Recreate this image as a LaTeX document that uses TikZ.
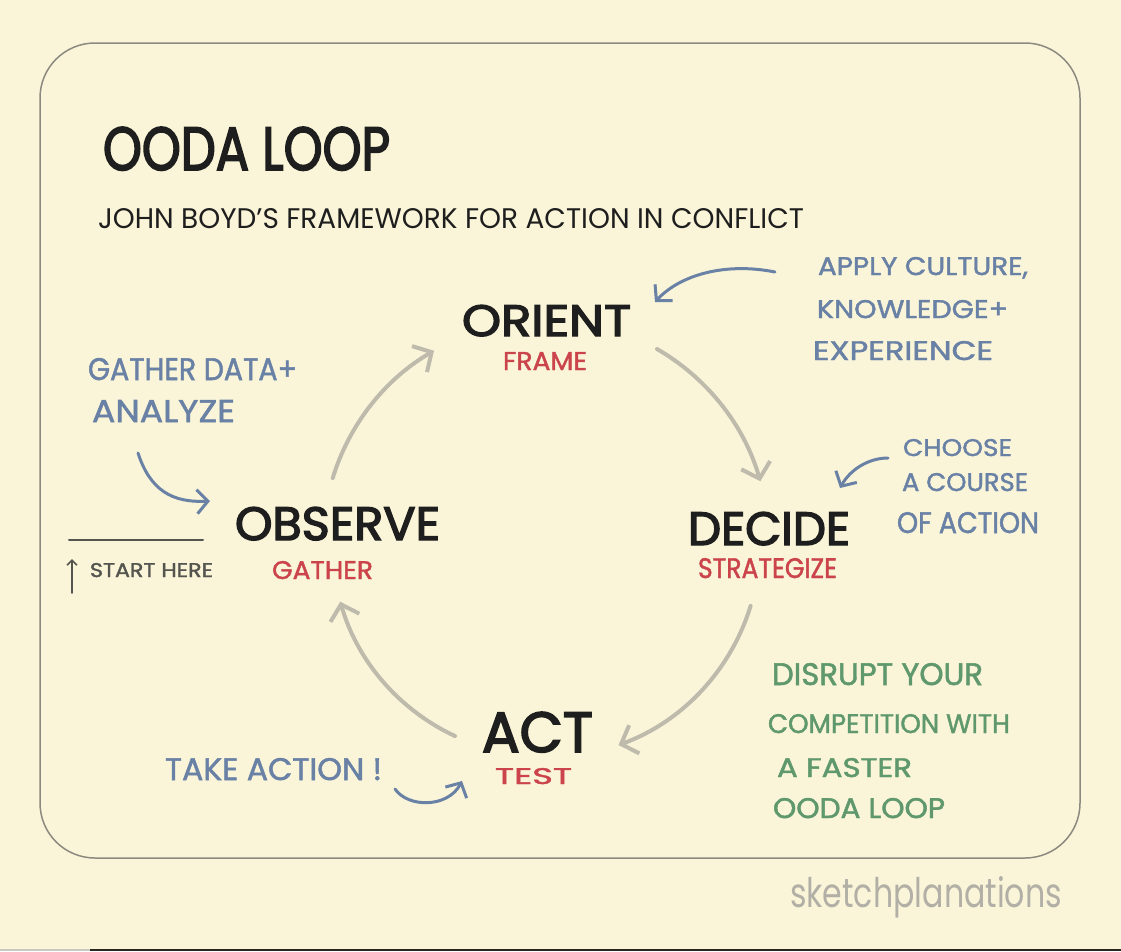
\documentclass[tikz,border=0pt]{standalone}
\usepackage{fontspec}
\setmainfont{Poppins}
\newfontfamily\inkfont{Poppins}[FakeBold=3]
\newfontfamily\notefont{Poppins}[FakeBold=1.6]
\usepackage{graphicx}
\usetikzlibrary{arrows.meta}
\definecolor{bg}{RGB}{250,245,216}
\definecolor{framec}{RGB}{140,138,128}
\definecolor{ink}{RGB}{30,30,30}
\definecolor{redc}{RGB}{203,68,76}
\definecolor{bluec}{RGB}{106,129,166}
\definecolor{greenc}{RGB}{95,152,108}
\definecolor{cyclec}{RGB}{190,186,172}
\definecolor{startc}{RGB}{85,85,80}
\definecolor{signc}{RGB}{178,176,166}
\definecolor{stripc}{RGB}{40,40,32}
\definecolor{stripl}{RGB}{200,200,195}
\newcommand\fitto[3]{\resizebox{#1pt}{#2pt}{#3}}
\begin{document}
\begin{tikzpicture}[x=1pt,y=-1pt,
  txt/.style={inner sep=0pt, outer sep=0pt, anchor=north west},
  main/.style={txt, text=ink, font=\inkfont},
  sub/.style={txt, text=redc, font=\notefont},
  note/.style={txt, text=bluec, font=\notefont},
  gnote/.style={txt, text=greenc, font=\notefont},
  cyc/.style={draw=cyclec, line width=4pt, line cap=round,
     -{Straight Barb[length=14pt,width=30pt,line width=4pt]}},
  bluearrow/.style={draw=bluec, line width=3pt, line cap=round,
     -{Straight Barb[length=11pt,width=24pt,line width=3pt]}}]
\useasboundingbox (0,0) rectangle (1121,951);
\fill[bg] (0,0) rectangle (1121,951);
\fill[stripl] (0,949) rectangle (90,951);
\fill[stripc] (90,949) rectangle (1121,951);
\draw[framec, line width=1.5pt, rounded corners=55pt] (40,43) rectangle (1080,858);

% titles
\node[main] (title) at (103,127) {\fitto{287}{43}{OODA LOOP}};
\node[txt, text=ink] (subtitle) at (98,208) {\fitto{706}{20}{JOHN BOYD’S FRAMEWORK FOR ACTION IN CONFLICT}};

% main stages
\node[main] (orient) at (462,305) {\fitto{169}{31}{ORIENT}};
\node[sub] (frame) at (503,352) {\fitto{84}{18}{FRAME}};
\node[main] (observe) at (235,507) {\fitto{205}{33}{OBSERVE}};
\node[sub] (gather) at (272,561) {\fitto{101}{18}{GATHER}};
\node[main] (decide) at (688,512) {\fitto{162}{33}{DECIDE}};
\node[sub] (strategize) at (698,558) {\fitto{139}{20}{STRATEGIZE}};
\node[main] (act) at (482,712) {\fitto{111}{40}{ACT}};
\node[sub] (test) at (495,768) {\fitto{77}{16}{TEST}};

% cycle arrows
\coordinate (c) at (545,543);
\draw[cyc] ([shift={(197:222)}]c) arc[start angle=197, end angle=240, radius=222];
\draw[cyc] ([shift={(300:224)}]c) arc[start angle=300, end angle=344, radius=224];
\draw[cyc] ([shift={(17:215)}]c) arc[start angle=17, end angle=70, radius=215];
\draw[cyc] ([shift={(115:213)}]c) arc[start angle=115, end angle=164, radius=213];

% blue notes
\node[note] (apply1) at (818,257) {\fitto{210}{18}{APPLY CULTURE,}};
\node[note] (apply2) at (817,300) {\fitto{191}{18}{KNOWLEDGE+}};
\node[note] (apply3) at (813,341) {\fitto{180}{19}{EXPERIENCE}};
\coordinate (applyS) at (775,272);
\coordinate (applyE) at (655,302);
\draw[bluearrow] (applyS) .. controls (725,262) and (680,275) .. (applyE);

\node[note] (gather1) at (88,358) {\fitto{209}{22}{GATHER DATA+}};
\node[note] (gather2) at (92,400) {\fitto{143}{22}{ANALYZE}};
\coordinate (gatherS) at (138,453);
\coordinate (gatherE) at (210,501);
\draw[bluearrow] (gatherS) .. controls (150,490) and (172,503) .. (gatherE);

\node[note] (choose1) at (903,439) {\fitto{109}{17}{CHOOSE}};
\node[note] (choose2) at (902,473) {\fitto{126}{18}{A COURSE}};
\node[note] (choose3) at (897,512) {\fitto{142}{21}{OF ACTION}};
\coordinate (chooseS) at (888,458);
\coordinate (chooseE) at (840,488);
\draw[bluearrow] (chooseS) .. controls (868,458) and (850,470) .. (chooseE);

\node[note] (take) at (165,758) {\fitto{217}{22}{TAKE ACTION !}};
\coordinate (takeS) at (395,789);
\coordinate (takeE) at (462,781);
\draw[bluearrow] (takeS) .. controls (408,808) and (448,808) .. (takeE);

% green notes
\node[gnote] (g1) at (772,663) {\fitto{211}{22}{DISRUPT YOUR}};
\node[gnote] (g2) at (768,714) {\fitto{242}{19}{COMPETITION WITH}};
\node[gnote] (g3) at (777,758) {\fitto{135}{19}{A FASTER}};
\node[gnote] (g4) at (773,798) {\fitto{172}{20}{OODA LOOP}};

% start here
\coordinate (lineL) at (69,540);
\coordinate (lineR) at (203,540);
\draw[startc, line width=2pt, line cap=round] (lineL) -- (lineR);
\coordinate (upS) at (72,593);
\coordinate (upE) at (72,559);
\draw[startc, line width=1.6pt, line cap=round, -{Straight Barb[length=5pt,width=10pt,line width=1.6pt]}] (upS) -- (upE);
\node[txt, text=startc, font=\notefont] (start) at (90,563) {\fitto{123}{14}{START HERE}};

% signature
\node[txt, text=signc] (sign) at (790,876) {\resizebox{272pt}{31pt}{sketchplanations}};
\end{tikzpicture}
\end{document}
